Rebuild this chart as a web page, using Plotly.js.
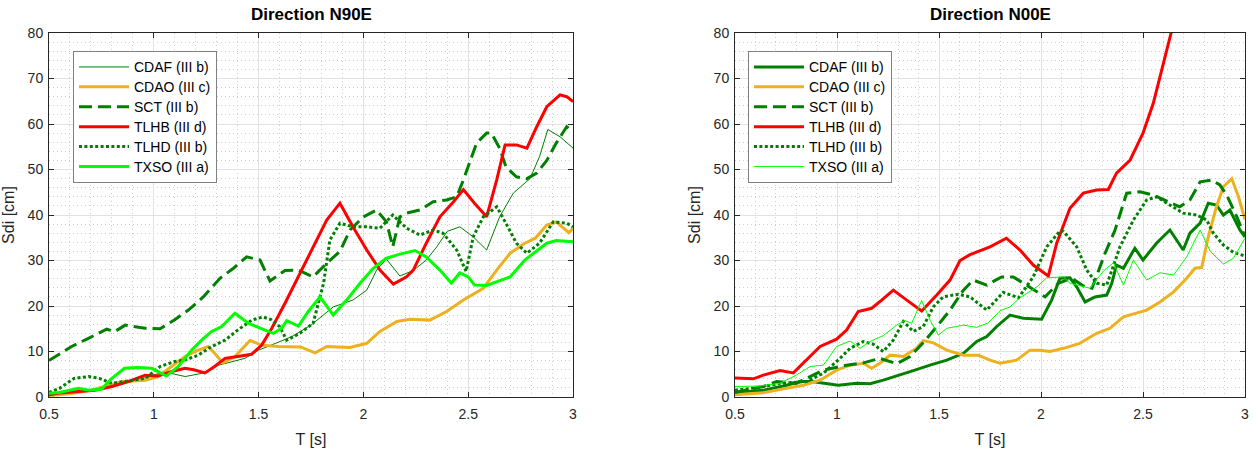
<!DOCTYPE html>
<html><head><meta charset="utf-8">
<script src="https://cdn.plot.ly/plotly-3.0.1.min.js"></script>
<style>html,body{margin:0;padding:0;background:#fff;}#chart{width:1254px;height:454px;}</style>
</head><body><div id="chart"></div>
<script>
// ---------- Data: Direction N90E (left panel) ----------
const seriesNames = ['CDAF (III b)','CDAO (III c)','SCT (III b)','TLHB (III d)','TLHD (III b)','TXSO (III a)'];
const panelTitles = ['Direction N90E','Direction N00E'];
const xTicks = [0.5,1,1.5,2,2.5,3];
const yTicks = [0,10,20,30,40,50,60,70,80];

const n90e_CDAF_T = [0.50,0.60,0.70,0.80,0.90,1.00,1.05,1.10,1.15,1.23,1.31,1.435,1.50,1.56,1.66,1.75,1.856,1.95,2.016,2.063,2.11,2.174,2.238,2.30,2.35,2.40,2.46,2.524,2.588,2.65,2.715,2.795,2.84,2.88,2.938,3.00];
const n90e_CDAF_V = [0.5,0.9,1.5,2.4,3.4,4.8,5.6,5.0,4.5,5.2,7.0,8.5,10.3,11.4,13.3,15.8,19.8,21.3,23.5,27.9,30.3,26.6,27.8,30.1,33.0,36.4,37.4,35.2,32.3,39.6,44.8,48.0,52.8,58.8,57.2,54.7];

const n90e_CDAO_T = [0.50,0.60,0.70,0.80,0.85,0.96,1.02,1.085,1.149,1.212,1.26,1.29,1.33,1.387,1.459,1.515,1.594,1.70,1.77,1.825,1.936,2.016,2.079,2.16,2.222,2.317,2.397,2.477,2.572,2.636,2.70,2.77,2.82,2.875,2.92,2.98,3.00];
const n90e_CDAO_V = [0.3,0.7,1.5,2.7,3.4,3.7,4.5,6.7,8.9,10.3,11.1,9.6,7.5,8.9,12.4,11.4,11.1,11.0,9.7,11.1,10.9,11.8,14.4,16.6,17.1,16.9,18.8,21.3,23.9,27.9,31.6,33.8,34.9,37.8,38.5,36.1,37.1];

const n90e_SCT_T = [0.50,0.608,0.688,0.775,0.815,0.863,0.958,1.03,1.10,1.165,1.236,1.316,1.38,1.443,1.507,1.554,1.626,1.69,1.76,1.825,1.888,1.936,2.00,2.063,2.11,2.14,2.174,2.206,2.27,2.333,2.397,2.445,2.477,2.51,2.54,2.588,2.61,2.65,2.68,2.73,2.78,2.827,2.875,2.92,2.97,3.00];
const n90e_SCT_V = [8.0,11.1,12.9,14.9,14.4,15.8,15.1,15.0,17.0,19.1,22.0,26.1,28.3,30.8,30.1,25.5,27.8,27.9,26.4,29.4,32.0,36.7,39.6,41.1,38.5,33.0,39.6,40.4,41.1,42.9,43.3,44.0,47.7,52.0,55.8,58.0,58.0,54.7,50.6,48.4,48.0,49.2,52.0,55.8,59.4,58.3];

const n90e_TLHB_T = [0.50,0.55,0.64,0.72,0.80,0.878,0.958,1.02,1.085,1.149,1.19,1.244,1.29,1.34,1.40,1.467,1.515,1.563,1.626,1.69,1.76,1.825,1.888,1.95,2.016,2.079,2.143,2.206,2.238,2.30,2.365,2.43,2.477,2.53,2.588,2.636,2.676,2.73,2.78,2.827,2.875,2.938,2.97,3.00];
const n90e_TLHB_V = [0.5,0.9,1.2,1.5,2.3,3.4,4.8,4.6,5.6,6.3,6.0,5.3,6.7,8.5,8.9,9.4,11.4,15.1,20.6,26.4,33.0,38.9,42.6,37.4,32.3,27.9,24.8,26.4,27.9,33.8,39.6,42.9,45.6,42.6,39.6,47.7,55.4,55.4,54.7,59.4,63.8,66.4,66.0,64.9];

const n90e_TLHD_T = [0.50,0.55,0.62,0.69,0.74,0.80,0.86,0.96,1.03,1.10,1.149,1.212,1.276,1.34,1.40,1.467,1.52,1.56,1.60,1.634,1.697,1.76,1.81,1.84,1.888,1.95,2.016,2.079,2.14,2.206,2.27,2.333,2.38,2.445,2.49,2.524,2.572,2.636,2.68,2.73,2.78,2.84,2.906,2.97,3.00];
const n90e_TLHD_V = [1.0,1.9,4.1,4.5,4.1,3.0,3.4,4.1,6.7,7.8,8.1,9.2,11.1,12.5,14.7,16.9,17.6,17.0,15.5,12.5,14.0,16.2,25.0,34.5,38.2,37.4,37.4,37.1,40.0,37.1,35.6,36.7,36.0,32.3,27.6,35.2,39.6,41.8,38.2,33.8,31.6,33.8,38.5,38.2,37.4];

const n90e_TXSO_T = [0.50,0.55,0.64,0.69,0.75,0.80,0.86,0.926,0.99,1.06,1.117,1.18,1.228,1.276,1.324,1.387,1.45,1.515,1.57,1.61,1.634,1.69,1.737,1.793,1.856,1.92,1.984,2.047,2.11,2.174,2.246,2.30,2.365,2.42,2.46,2.50,2.53,2.588,2.70,2.77,2.84,2.875,2.92,3.00];
const n90e_TXSO_V = [0.8,1.0,1.9,1.5,1.7,4.1,6.3,6.5,6.3,4.6,6.7,10.3,12.5,14.4,15.5,18.4,16.2,15.1,14.0,15.1,16.8,15.6,18.8,22.0,18.0,21.3,25.0,28.3,30.5,31.4,32.2,30.8,27.9,25.0,27.3,26.4,24.6,24.5,26.4,30.1,32.7,33.8,34.4,34.1];

// ---------- Data: Direction N00E (right panel) ----------
const n00e_CDAF_T = [0.50,0.64,0.753,0.819,0.876,0.94,1.006,1.097,1.162,1.227,1.293,1.374,1.456,1.538,1.62,1.685,1.734,1.783,1.848,1.913,2.003,2.052,2.093,2.142,2.175,2.216,2.265,2.322,2.347,2.37,2.404,2.46,2.50,2.566,2.632,2.697,2.73,2.78,2.82,2.86,2.894,2.926,2.975,3.00];
const n00e_CDAF_V = [1.0,1.5,2.6,3.4,3.4,3.0,2.6,3.0,2.9,3.7,4.6,5.8,7.0,8.1,9.6,12.2,13.3,15.5,18.0,17.3,17.1,21.3,26.1,26.2,24.2,20.9,22.0,22.4,25.0,29.0,28.3,32.7,30.1,33.8,36.7,32.3,36.0,38.2,42.6,42.2,40.0,41.1,36.7,35.2];

const n00e_CDAO_T = [0.50,0.639,0.75,0.835,0.917,0.998,1.064,1.129,1.17,1.21,1.26,1.325,1.39,1.423,1.472,1.538,1.62,1.693,1.75,1.80,1.88,1.946,1.995,2.044,2.11,2.19,2.273,2.338,2.404,2.47,2.518,2.583,2.65,2.714,2.755,2.788,2.82,2.86,2.894,2.935,2.968,3.00];
const n00e_CDAO_V = [0.5,0.95,1.9,2.6,3.7,5.9,7.0,7.4,6.3,7.4,9.2,8.9,10.7,12.4,11.9,10.3,9.2,9.2,8.1,7.4,8.1,10.3,10.3,10.0,10.7,11.8,14.0,15.1,17.6,18.5,19.1,20.9,23.1,26.1,28.3,28.5,35.2,41.8,46.2,48.0,44.0,39.0];

const n00e_SCT_T = [0.50,0.639,0.704,0.80,0.868,0.933,1.047,1.129,1.21,1.293,1.358,1.42,1.49,1.554,1.62,1.668,1.734,1.807,1.864,1.954,2.02,2.085,2.15,2.216,2.25,2.314,2.363,2.42,2.485,2.55,2.68,2.73,2.78,2.837,2.877,2.91,2.96,3.00];
const n00e_SCT_V = [1.0,2.3,3.4,3.0,4.5,5.9,7.0,7.5,8.5,7.3,8.9,11.8,15.5,19.1,23.5,25.7,24.6,26.4,26.4,23.9,22.0,25.0,26.1,24.2,23.9,31.6,36.7,44.8,45.1,44.4,41.8,43.3,47.3,47.7,46.6,44.4,39.6,35.2];

const n00e_TLHB_T = [0.50,0.59,0.639,0.72,0.786,0.85,0.917,0.998,1.047,1.104,1.17,1.219,1.276,1.342,1.415,1.489,1.554,1.603,1.652,1.75,1.83,1.897,1.962,2.036,2.077,2.142,2.207,2.273,2.33,2.37,2.436,2.50,2.55,2.60,2.64,2.66];
const n00e_TLHB_V = [4.2,4.0,4.8,5.8,5.3,8.1,11.1,12.7,14.7,18.8,19.5,21.3,23.5,21.3,18.9,22.4,25.7,30.0,31.3,33.0,34.9,32.3,29.0,26.6,33.8,41.5,44.8,45.5,45.6,49.2,52.0,58.0,64.5,73.3,79.9,84.0];

const n00e_TLHD_T = [0.50,0.60,0.72,0.80,0.85,0.933,1.015,1.064,1.129,1.178,1.227,1.276,1.325,1.374,1.423,1.472,1.52,1.595,1.652,1.734,1.815,1.89,1.962,2.028,2.093,2.11,2.175,2.224,2.273,2.322,2.387,2.453,2.518,2.566,2.632,2.697,2.763,2.812,2.845,2.894,2.943,3.00];
const n00e_TLHD_V = [1.5,2.0,3.0,3.2,3.4,5.2,8.5,10.7,12.2,11.6,10.0,12.5,16.6,14.4,15.5,19.8,22.0,22.6,22.0,19.1,23.0,21.8,26.4,33.0,36.5,36.4,33.0,27.9,25.0,24.6,33.0,38.9,43.3,44.0,42.2,40.4,40.0,38.9,36.0,33.4,31.8,31.0];

const n00e_TXSO_T = [0.50,0.614,0.72,0.80,0.868,0.933,0.998,1.064,1.113,1.162,1.227,1.293,1.333,1.366,1.415,1.456,1.497,1.538,1.62,1.685,1.742,1.80,1.848,1.897,1.98,2.028,2.11,2.142,2.24,2.306,2.355,2.404,2.453,2.518,2.583,2.65,2.714,2.78,2.83,2.894,2.943,3.00];
const n00e_TXSO_V = [2.3,2.4,3.0,4.8,6.7,7.0,11.1,12.3,10.7,12.2,13.5,15.8,16.8,16.2,21.2,16.9,13.6,15.1,15.8,15.3,16.3,19.0,19.8,21.8,24.2,26.2,26.4,25.0,23.9,27.7,29.5,24.6,30.1,25.7,27.3,26.8,30.8,36.7,32.0,29.2,30.5,34.9];

// ---------- Styles ----------
const FONT = 'Liberation Sans, Arial, Helvetica, sans-serif';
const DG = 'rgb(0,128,0)', OR = 'rgb(237,177,32)', RD = 'rgb(255,0,0)', LG = 'rgb(0,255,0)';
const DASH = '13px,6px', DOT = '3px,2.4px';

function tr(x, y, name, color, width, dash, xa, ya, leg) {
  return {type:'scatter', mode:'lines', x:x, y:y,
    name:'<span style="font-size:14px">' + name + '</span>', xaxis:xa, yaxis:ya, legend:leg,
    line:{color:color, width:width, dash:dash||'solid'}, hoverinfo:'skip'};
}

const traces = [
  tr(n90e_CDAF_T, n90e_CDAF_V, seriesNames[0], DG, 1, null, 'x', 'y', 'legend'),
  tr(n90e_CDAO_T, n90e_CDAO_V, seriesNames[1], OR, 3, null, 'x', 'y', 'legend'),
  tr(n90e_SCT_T,  n90e_SCT_V,  seriesNames[2], DG, 3, DASH, 'x', 'y', 'legend'),
  tr(n90e_TLHB_T, n90e_TLHB_V, seriesNames[3], RD, 3, null, 'x', 'y', 'legend'),
  tr(n90e_TLHD_T, n90e_TLHD_V, seriesNames[4], DG, 3, DOT, 'x', 'y', 'legend'),
  tr(n90e_TXSO_T, n90e_TXSO_V, seriesNames[5], LG, 3, null, 'x', 'y', 'legend'),
  tr(n00e_CDAF_T, n00e_CDAF_V, seriesNames[0], DG, 3, null, 'x2', 'y2', 'legend2'),
  tr(n00e_CDAO_T, n00e_CDAO_V, seriesNames[1], OR, 3, null, 'x2', 'y2', 'legend2'),
  tr(n00e_SCT_T,  n00e_SCT_V,  seriesNames[2], DG, 3, DASH, 'x2', 'y2', 'legend2'),
  tr(n00e_TLHB_T, n00e_TLHB_V, seriesNames[3], RD, 3, null, 'x2', 'y2', 'legend2'),
  tr(n00e_TLHD_T, n00e_TLHD_V, seriesNames[4], DG, 3, DOT, 'x2', 'y2', 'legend2'),
  tr(n00e_TXSO_T, n00e_TXSO_V, seriesNames[5], LG, 1, null, 'x2', 'y2', 'legend2')
];

const W = 1254, H = 454;
const ML = 49, MR = 9, MT = 33, MB = 57;
const PW = W - ML - MR;

function xax(d0, d1, anchor) {
  return {domain:[d0, d1], anchor:anchor, range:[0.5,3], tickvals:xTicks, ticks:'inside', ticklen:5,
    tickcolor:'#262626', tickwidth:1, showline:true, linecolor:'#262626', linewidth:1, mirror:'ticks',
    showgrid:true, gridcolor:'#e2e2e2', gridwidth:1, zeroline:false, ticklabelstandoff:4,
    minor:{dtick:0.1, tick0:0.5, showgrid:true, gridcolor:'#cfcfcf', griddash:'1px,3px', gridwidth:1, ticks:''},
    tickfont:{family:FONT, size:14, color:'#262626'},
    title:{text:'T [s]', font:{family:FONT, size:16, color:'#262626'}, standoff:13}, automargin:false, fixedrange:true};
}
function yax(anchor) {
  return {domain:[0,1], anchor:anchor, range:[0,80], tickvals:yTicks, ticks:'inside', ticklen:5,
    tickcolor:'#262626', tickwidth:1, showline:true, linecolor:'#262626', linewidth:1, mirror:'ticks',
    showgrid:true, gridcolor:'#e2e2e2', gridwidth:1, zeroline:false, ticklabelstandoff:2,
    minor:{dtick:2, tick0:0, showgrid:true, gridcolor:'#cfcfcf', griddash:'1px,3px', gridwidth:1, ticks:''},
    tickfont:{family:FONT, size:14, color:'#262626'},
    title:{text:'Sdi [cm]', font:{family:FONT, size:16, color:'#262626'}, standoff:9}, automargin:false, fixedrange:true};
}

const x1d = [0, (573-ML)/PW], x2d = [(735-ML)/PW, 1];

function leg(px) {
  return {x:(px-ML)/PW, y:1-(51-MT)/(H-MT-MB), xanchor:'left', yanchor:'top', xref:'paper', yref:'paper',
    bgcolor:'#ffffff', bordercolor:'#808080', borderwidth:1,
    font:{family:FONT, size:13, color:'#000'}, itemwidth:50, tracegroupgap:0, traceorder:'normal'};
}

const layout = {
  width:W, height:H, margin:{l:ML, r:MR, t:MT, b:MB, pad:0},
  paper_bgcolor:'#fff', plot_bgcolor:'#fff', showlegend:true,
  font:{family:FONT, color:'#262626'},
  xaxis:xax(x1d[0], x1d[1], 'y'), yaxis:yax('x'),
  xaxis2:xax(x2d[0], x2d[1], 'y2'), yaxis2:yax('x2'),
  legend:leg(73), legend2:leg(748),
  annotations:[
    {text:'<b>'+panelTitles[0]+'</b>', xref:'paper', yref:'paper', x:(x1d[0]+x1d[1])/2, y:1+(MT-15)/(H-MT-MB),
     xanchor:'center', yanchor:'middle', showarrow:false, font:{family:FONT, size:17, color:'#000'}},
    {text:'<b>'+panelTitles[1]+'</b>', xref:'paper', yref:'paper', x:(x2d[0]+x2d[1])/2, y:1+(MT-15)/(H-MT-MB),
     xanchor:'center', yanchor:'middle', showarrow:false, font:{family:FONT, size:17, color:'#000'}}
  ]
};

Plotly.newPlot('chart', traces, layout, {staticPlot:true, displayModeBar:false});
</script></body></html>
